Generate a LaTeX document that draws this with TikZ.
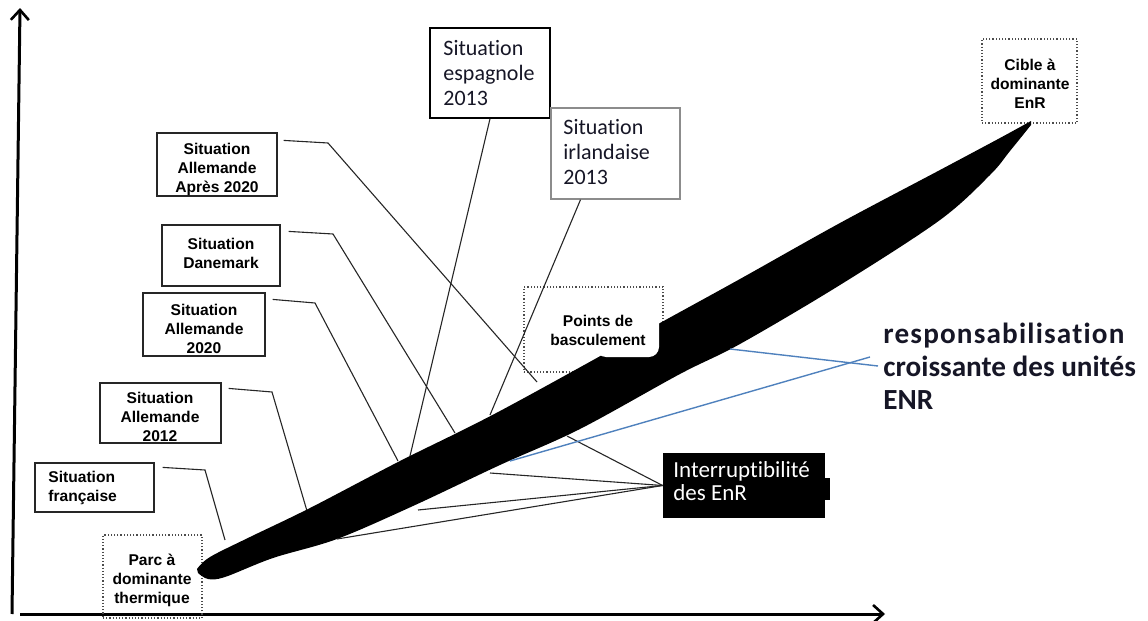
\documentclass[tikz,border=0pt]{standalone}
\usepackage{fontspec}
\newfontfamily\arialf{Liberation Sans}
\newfontfamily\calib[Ligatures=NoCommon]{Carlito}
\usetikzlibrary{arrows.meta,fit,calc}
\definecolor{officeblue}{RGB}{79,129,189}
\definecolor{inkdark}{RGB}{22,22,38}
\begin{document}
\begin{tikzpicture}[x=0.5pt,y=-0.5pt,
  sbox/.style={draw=black!85, line width=0.6pt, inner sep=0pt},
  dbox/.style={draw=black!70, densely dotted, line width=0.6pt, inner sep=0pt},
  stxt/.style={font=\arialf\bfseries\fontsize{7.8}{9.5}\selectfont, align=center, inner sep=0pt},
  ctxt/.style={font=\calib\fontsize{11}{12.5}\selectfont, align=left, inner sep=0pt, anchor=west, text=inkdark},
  conn/.style={draw=black!85, line width=0.55pt},
  blueconn/.style={draw=officeblue, line width=0.7pt},
  axisline/.style={line width=1.5pt, -{Straight Barb[length=5pt,width=9pt,line width=1.3pt]}}
]
\useasboundingbox (0,0) rectangle (1148,621);

% axes
\coordinate (O1) at (12,614);
\coordinate (Ytop) at (20,8);
\coordinate (O2) at (20,614);
\coordinate (Xend) at (885,614);
\draw[axisline] (O1) -- (Ytop);
\draw[axisline] (O2) -- (Xend);

% boxes
\node[sbox, fit={(157,133)(277,196)}] (apres) {};
\node[stxt] (apretxt) at (217,169) {Situation\\Allemande\\Après 2020};
\node[sbox, fit={(162,225)(280,286)}] (dane) {};
\node[stxt] (danetxt) at (221,253) {Situation\\Danemark};
\node[sbox, fit={(143,293)(265,356)}] (a2020) {};
\node[stxt] (a2020txt) at (204,329) {Situation\\Allemande\\2020};
\node[sbox, fit={(100,383)(221,443)}] (a2012) {};
\node[stxt] (a2012txt) at (160,417) {Situation\\Allemande\\2012};
\node[sbox, fit={(35,463)(154,512)}] (fra) {};
\node[stxt, align=left, anchor=west] (fratxt) at (48,488) {Situation\\française};
\node[dbox, fit={(103,535)(202,618)}] (parc) {};
\node[stxt] (parctxt) at (152,580) {Parc à\\dominante\\thermique};
\node[dbox, fit={(982,39)(1077,123)}] (cible) {};
\node[stxt] (cibletxt) at (1030,84) {Cible à\\dominante\\EnR};
\node[dbox, fit={(524,287)(663,372)}] (pts) {};

\node[draw=black, line width=0.8pt, inner sep=0pt, fit={(430,28)(550,118)}] (esp) {};
\node[ctxt] (esptxt) at (443,73) {Situation\\espagnole\\2013};
\node[draw=black!45, line width=0.7pt, inner sep=0pt, fit={(551,108)(680,199)}] (irl) {};
\node[ctxt] (irltxt) at (563,152) {Situation\\irlandaise\\2013};

% end points on the band
\coordinate (e1) at (537,382);
\coordinate (e2) at (455,433);
\coordinate (e3) at (398,461);
\coordinate (e4) at (307,511);
\coordinate (e5) at (225,540);
\coordinate (e6) at (410,456);
\coordinate (e7) at (490,415);
\coordinate (i1) at (567,436);
\coordinate (i2) at (490,473);
\coordinate (i3) at (418,510);
\coordinate (i4) at (337,539);
\coordinate (b1) at (730,349);
\coordinate (b2) at (510,461);

% connectors from the situation boxes
\draw[conn] ([shift={(6,8)}]apres.north east) -- (328,143) -- (e1);
\draw[conn] ([shift={(8,7)}]dane.north east) -- (333,234) -- (e2);
\draw[conn] ([shift={(7,7)}]a2020.north east) -- (315,303) -- (e3);
\draw[conn] ([shift={(7,6)}]a2012.north east) -- (272,392) -- (e4);
\draw[conn] ([shift={(8,5)}]fra.north east) -- (205,470) -- (e5);
\draw[conn] (esp.south) -- (e6);
\draw[conn] ([shift={(-35,0)}]irl.south) -- (e7);

% the band
\fill[black] plot[smooth,tension=0.55] coordinates {(197,569) (210,557) (250,537) (310,508) (400,461) (500,411) (660,323) (740,279) (840,223) (940,170) (1000,138) (1031,121)}
  -- plot[smooth,tension=0.55] coordinates {(1031,125) (1010,151) (990,175) (940,220) (840,285) (740,344) (680,374) (580,429) (500,465) (413,506) (337,539) (273,558) (225,577) (208,579) (198,573)} -- cycle;

% notch of the points de basculement label
\fill[white, rounded corners=5pt] (596,300) rectangle (659,357);
\node[stxt] (ptstxt) at (598,330) {Points de\\basculement};

% interruptibilite
\node[fill=black, inner sep=0pt, fit={(663,453)(825,518)}] (intr) {};
\fill[black] (820,478) rectangle (830,500);
\node[font=\calib\fontsize{11.5}{11.5}\selectfont, text=white, align=left, inner sep=0pt, anchor=west] (intrtxt) at (673,481) {Interruptibilité\\des EnR};
\draw[conn] (intr.west) -- (i1);
\draw[conn] (intr.west) -- (i2);
\draw[conn] (intr.west) -- (i3);
\draw[conn] (intr.west) -- (i4);

% responsabilisation
\node[font=\calib\bfseries\fontsize{14.6}{16.5}\selectfont, text=inkdark, align=left, inner sep=0pt, anchor=west] (resp) at (883,366) {{\addfontfeature{LetterSpace=4}responsabilisation}\\croissante des unités\\ENR};
\draw[blueconn] (b1) -- ([shift={(-5,0)}]resp.west);
\draw[blueconn] (b2) -- ([shift={(-13,-9)}]resp.west);
\end{tikzpicture}
\end{document}
